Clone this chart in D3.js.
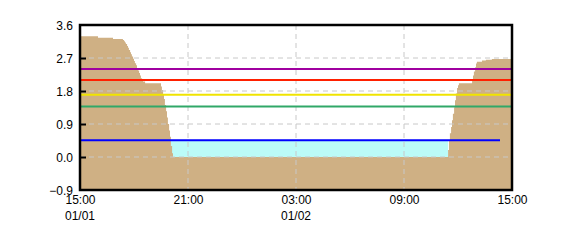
<!DOCTYPE html>
<html>
<head>
<meta charset="utf-8">
<script src="https://d3js.org/d3.v7.min.js"></script>
<style>
  body { margin: 0; background: #fff; }
  text { font-family: "Liberation Sans", Arial, sans-serif; font-size: 12px; fill: #000; }
</style>
</head>
<body>
<svg width="570" height="250"></svg>
<script>
// tide curve: minutes after 01/01 15:00, level
var tideMinutes = [0, 60, 110, 143, 147, 150, 153, 157, 160, 163, 167, 170, 173, 177, 180, 183, 187, 190, 193, 197, 200, 203, 207, 210, 217,
  270, 273, 277, 280, 283, 287, 290, 293, 297, 300, 303, 307, 310,
  1227, 1230, 1233, 1237, 1240, 1243, 1247, 1250, 1253, 1257, 1260, 1263,
  1307, 1310, 1313, 1317, 1320, 1323, 1340, 1353, 1373, 1440];
var tideValues = [3.29, 3.25, 3.22, 3.19, 3.16, 3.12, 3.08, 3.03, 2.98, 2.92, 2.86, 2.80, 2.74, 2.68, 2.62, 2.56, 2.50, 2.43, 2.36, 2.29, 2.22, 2.15, 2.10, 2.06, 2.01,
  1.92, 1.83, 1.72, 1.58, 1.42, 1.25, 1.08, 0.90, 0.72, 0.55, 0.30, 0.10, 0.00,
  0.19, 0.45, 0.65, 0.82, 1.00, 1.18, 1.36, 1.55, 1.73, 1.88, 1.96, 2.01,
  2.12, 2.22, 2.33, 2.45, 2.55, 2.60, 2.63, 2.65, 2.67, 2.67];

// water pool (cyan)
var poolMinutes = [303, 1227];
var poolLevel = 0.44;

// reference levels
var levelNames = ["purple", "red", "yellow", "green", "blue"];
var levelValues = [2.40, 2.10, 1.70, 1.38, 0.46];
var levelEndMinutes = [1440, 1440, 1440, 1440, 1400];
var levelColors = ["#a000a0", "#ff2000", "#f0e400", "#30a868", "#0000ff"];

var yTicks = [-0.9, 0.0, 0.9, 1.8, 2.7, 3.6];
var xTickHours = [0, 6, 12, 18, 24];
var xTickLabels = ["15:00", "21:00", "03:00", "09:00", "15:00"];
var dateLabels = [{h: 0, t: "01/01"}, {h: 12, t: "01/02"}];

var start = new Date(2000, 0, 1, 15, 0);
function t(min) { return new Date(start.getTime() + min * 60000); }

var svg = d3.select("svg");
var pLeft = 80, pRight = 512, pTop = 25, pBottom = 190;

var x = d3.scaleTime().domain([t(0), t(1440)]).range([pLeft, pRight]);
var y = d3.scaleLinear().domain([-0.9, 3.6]).range([pBottom, pTop]);

svg.append("rect").attr("width", 570).attr("height", 250).attr("fill", "#fff");

// pool
var poolArea = d3.area()
  .x(function(d) { return x(t(d)); })
  .y0(y(0)).y1(y(poolLevel));
svg.append("path").datum(poolMinutes)
  .attr("d", poolArea).attr("fill", "#bbfbf8");

// tide area
var tide = tideMinutes.map(function(m, i) { return {m: m, v: tideValues[i]}; });
var tideArea = d3.area()
  .curve(d3.curveStepAfter)
  .x(function(d) { return x(t(d.m)); })
  .y0(y(-0.9))
  .y1(function(d) { return y(d.v); });
svg.append("path").datum(tide)
  .attr("d", tideArea).attr("fill", "#cfb084");

// grid
svg.append("g").selectAll("line").data(yTicks.slice(1, 5)).enter().append("line")
  .attr("x1", pLeft).attr("x2", pRight)
  .attr("y1", function(d) { return y(d); }).attr("y2", function(d) { return y(d); })
  .attr("stroke", "#c8c8c8").attr("stroke-dasharray", "5,4");
svg.append("g").selectAll("line").data(xTickHours.slice(1, 4)).enter().append("line")
  .attr("x1", function(d) { return x(t(d * 60)); }).attr("x2", function(d) { return x(t(d * 60)); })
  .attr("y1", pTop).attr("y2", pBottom)
  .attr("stroke", "#c8c8c8").attr("stroke-dasharray", "5,4");

// level lines
svg.append("g").selectAll("line").data(levelValues).enter().append("line")
  .attr("x1", pLeft)
  .attr("x2", function(d, i) { return x(t(levelEndMinutes[i])); })
  .attr("y1", function(d) { return y(d); }).attr("y2", function(d) { return y(d); })
  .attr("stroke", function(d, i) { return levelColors[i]; })
  .attr("stroke-width", 2);

// frame
svg.append("rect")
  .attr("x", pLeft).attr("y", pTop)
  .attr("width", pRight - pLeft).attr("height", pBottom - pTop)
  .attr("fill", "none").attr("stroke", "#000").attr("stroke-width", 2.5);

// y axis
var yAxis = svg.append("g").attr("transform", "translate(" + pLeft + ",0)")
  .call(d3.axisRight(y).tickValues(yTicks).tickSize(6).tickFormat(d3.format(".1f")));
yAxis.select(".domain").remove();
yAxis.selectAll(".tick line").attr("stroke", "#000").attr("stroke-width", 2)
  .filter(function(d) { return d === -0.9 || d === 3.6; }).remove();
yAxis.selectAll(".tick text").attr("x", -7).attr("text-anchor", "end")
  .attr("dy", "0.36em").style("font-family", "Liberation Sans, Arial").style("font-size", "12px").attr("fill", "#000");

// x axis
var xAxis = svg.append("g").attr("transform", "translate(0," + pBottom + ")")
  .call(d3.axisBottom(x).tickValues(xTickHours.map(function(h) { return t(h * 60); }))
    .tickSize(0).tickFormat(function(d, i) { return xTickLabels[i]; }));
xAxis.select(".domain").remove();
xAxis.selectAll(".tick text").attr("y", 14).attr("dy", 0)
  .style("font-family", "Liberation Sans, Arial").style("font-size", "12px").attr("fill", "#000");

svg.append("g").selectAll("text").data(dateLabels).enter().append("text")
  .attr("x", function(d) { return x(t(d.h * 60)); })
  .attr("y", 220).attr("text-anchor", "middle")
  .text(function(d) { return d.t; });
</script>
</body>
</html>
